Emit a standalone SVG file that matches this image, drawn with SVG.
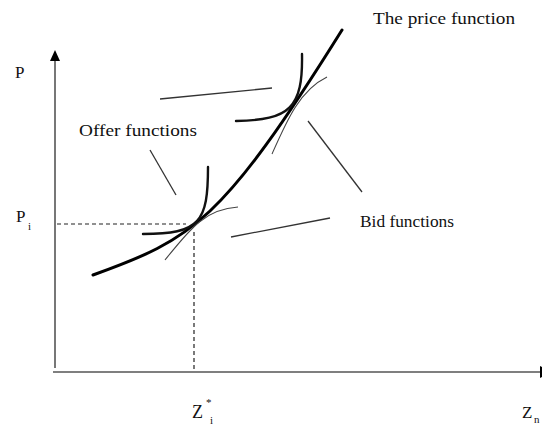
<svg xmlns="http://www.w3.org/2000/svg" width="542" height="425" viewBox="0 0 542 425">
<style>
.t{font-family:"Liberation Serif","DejaVu Serif","Times New Roman",serif;fill:#111;}
.axis{stroke:#555;stroke-width:1.6;fill:none;}
.dash{stroke:#222;stroke-width:1.2;stroke-dasharray:4 3;fill:none;}
.price{stroke:#000;stroke-width:3;fill:none;stroke-linecap:round;}
.bid{stroke:#111;stroke-width:2.4;fill:none;stroke-linecap:round;}
.offer{stroke:#444;stroke-width:1.1;fill:none;}
.ptr{stroke:#333;stroke-width:1.3;fill:none;}
</style>
<rect width="542" height="425" fill="#fff"/>
<g id="axes">
<line class="axis" x1="55" y1="60" x2="55" y2="368"/>
<polygon points="55,50 50,61 60,61" fill="#000"/>
<line class="axis" x1="53" y1="372" x2="541" y2="372"/>
<polygon points="540,366 540,378 552,372" fill="#000"/>
</g>
<g id="guides">
<line class="dash" x1="57" y1="224" x2="186" y2="224"/>
<line class="dash" x1="194" y1="232" x2="194" y2="371"/>
</g>
<g id="price-function">
<path class="price" d="M93,275 C193,239 222,222 342,30"/>
</g>
<g id="lower-bid">
<path class="bid" d="M143,234 C200,234 208,222 208,167"/>
</g>
<g id="lower-offer">
<path class="offer" d="M165,260 C190,229 205,209 238,207"/>
</g>
<g id="upper-bid">
<path class="bid" d="M236,121 C290,120 303,108 302,54"/>
</g>
<g id="upper-offer">
<path class="offer" d="M272,154 C287,120 300,90 327,77"/>
</g>
<g id="connectors">
<line class="ptr" x1="150" y1="150" x2="176" y2="195"/>
<line class="ptr" x1="231" y1="237" x2="330" y2="218"/>
<line class="ptr" x1="160" y1="99" x2="272" y2="88"/>
<line class="ptr" x1="308" y1="121" x2="362" y2="192"/>
</g>
<g id="labels" font-family="Liberation Serif, DejaVu Serif, serif">
<text class="t" x="373" y="24" font-size="17" textLength="142" lengthAdjust="spacingAndGlyphs">The price function</text>
<text class="t" x="79" y="136" font-size="17" textLength="118" lengthAdjust="spacingAndGlyphs">Offer functions</text>
<text class="t" x="360" y="227" font-size="17" textLength="94" lengthAdjust="spacingAndGlyphs">Bid functions</text>
<text class="t" x="15" y="78" font-size="17">P</text>
<text class="t" x="16" y="222" font-size="17">P</text>
<text class="t" x="28" y="230" font-size="11">i</text>
<text class="t" x="192" y="418" font-size="18">Z</text>
<text class="t" x="206" y="406" font-size="11">*</text>
<text class="t" x="210" y="424" font-size="11">i</text>
<text class="t" x="522" y="418" font-size="17">Z</text>
<text class="t" x="534" y="423" font-size="11">n</text>
</g>
</svg>
